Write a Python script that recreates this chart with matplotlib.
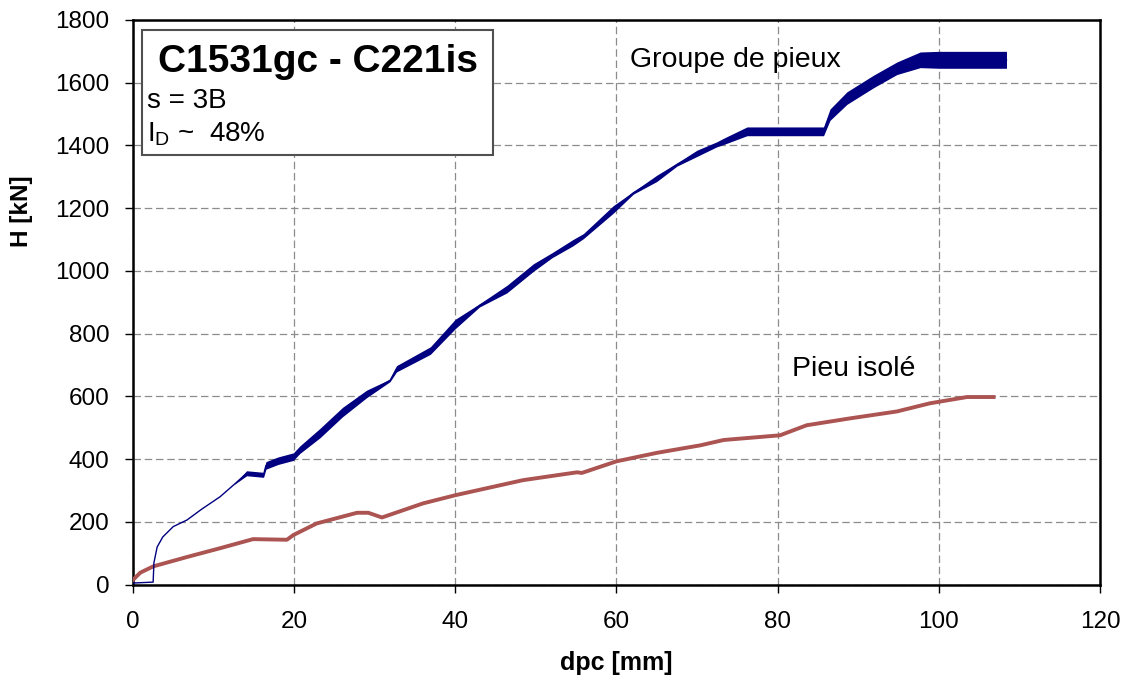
import matplotlib
matplotlib.use('Agg')
from matplotlib import pyplot as plt
from matplotlib.patches import Rectangle
import numpy as np

plt.rcParams['font.family'] = ['Liberation Sans', 'DejaVu Sans']
plt.rcParams['mathtext.fontset'] = 'custom'
plt.rcParams['mathtext.rm'] = 'Liberation Sans'
plt.rcParams['mathtext.it'] = 'Liberation Sans:italic'

# Groupe de pieux (dpc [mm], H [kN]) + half width of the oscillation band
group_x = [0, 2.5, 2.6, 3.0, 3.7, 5.0, 6.7, 8.5, 10.8, 12.5, 14.1, 16.2, 16.5, 18.0,
           19.9, 20.7, 23.2, 26.0, 29.0, 31.9, 32.7, 36.9, 40.0, 43.0, 46.4, 49.7,
           52.0, 54.6, 55.9, 59.6, 62.1, 65.0, 67.5, 70.0, 72.4, 73.3, 76.2, 80.0,
           85.7, 86.5, 88.6, 91.9, 94.8, 97.7, 100.0, 104.0, 108.4]
group_h = [5, 8, 70, 120, 152, 185, 206, 240, 280, 318, 355, 350, 380, 395,
           408, 430, 483, 550, 608, 651, 688, 746, 831, 890, 942, 1011,
           1050, 1090, 1111, 1196, 1249, 1295, 1339, 1375, 1403, 1413, 1445, 1445,
           1445, 1498, 1551, 1604, 1646, 1673, 1673, 1673, 1673]
group_spread = [0, 0, 0, 0, 0, 0, 0, 0, 0, 0, 8, 8, 12, 12,
                12, 12, 15, 15, 12, 4, 10, 12, 15, 5, 12, 12,
                8, 10, 8, 12, 4, 10, 5, 10, 8, 10, 14, 14,
                14, 18, 20, 20, 20, 25, 27, 27, 27]

# Pieu isolé
single_x = [0, 0.9, 2.5, 6.7, 10.8, 14.9, 19.1, 19.9, 22.8, 27.8, 29.2, 30.9, 36.0,
            40.0, 48.4, 55.1, 55.7, 60.0, 65.0, 70.4, 73.3, 80.3, 83.6, 89.0, 94.8,
            98.9, 103.5, 106.8]
single_h = [15, 38, 58, 88, 116, 145, 143, 158, 195, 229, 229, 214, 259,
            285, 333, 358, 356, 393, 420, 444, 461, 476, 508, 530, 552,
            578, 598, 598]

blue = '#000080'
red = '#ab5452'

fig = plt.figure(figsize=(11.27, 6.84), dpi=100)
ax = fig.add_axes([0.118, 0.1453, 0.858, 0.8255])

gx = np.array(group_x)
gh = np.array(group_h)
gs = np.array(group_spread)
ax.fill_between(gx, gh - gs, gh + gs, color=blue, lw=0, zorder=3)
ax.plot(gx, gh, color=blue, lw=1.0, zorder=4)
ax.plot(single_x, single_h, color=red, lw=2.8, zorder=3)

ax.set_xlim(0, 120)
ax.set_ylim(0, 1800)
ax.set_xticks(range(0, 121, 20))
ax.set_yticks(range(0, 1801, 200))
ax.grid(True, color='#8c8c8c', lw=0.9, dashes=(6, 3))
ax.set_axisbelow(True)
for s in ax.spines.values():
    s.set_linewidth(1.8)
ax.tick_params(axis='both', labelsize=17.5, length=6, width=1.0, direction='out')
ax.tick_params(axis='x', pad=13)
ax.tick_params(axis='y', pad=11)

ax.set_xlabel('dpc [mm]', fontsize=18, fontweight='bold')
ax.set_ylabel('H [kN]', fontsize=17.5, fontweight='bold')
ax.xaxis.set_label_coords(0.5, -0.139)
ax.xaxis.label.set_va('center')
ax.yaxis.set_label_coords(-0.115, 0.662)
ax.yaxis.label.set_va('center')

# info box
ax.add_patch(Rectangle((0.0093, 0.761), 0.3627, 0.221, transform=ax.transAxes,
                       facecolor='white', edgecolor='#505050', lw=1.5, zorder=5))
ax.text(0.191, 0.908, 'C1531gc - C221is', transform=ax.transAxes, fontsize=28,
        fontweight='bold', ha='center', va='baseline', zorder=6)
ax.text(0.0145, 0.844, 's = 3B', transform=ax.transAxes, fontsize=20,
        va='baseline', zorder=6)
ax.text(0.0145, 0.784, r'I$_{\mathrm{D}}$ ~  48%', transform=ax.transAxes, fontsize=20,
        va='baseline', zorder=6)

ax.text(61.7, 1673, 'Groupe de pieux', fontsize=20.5, va='center', ha='left')
ax.text(81.8, 688, 'Pieu isolé', fontsize=20.5, va='center', ha='left')

fig.savefig('out.png', dpi=100)
